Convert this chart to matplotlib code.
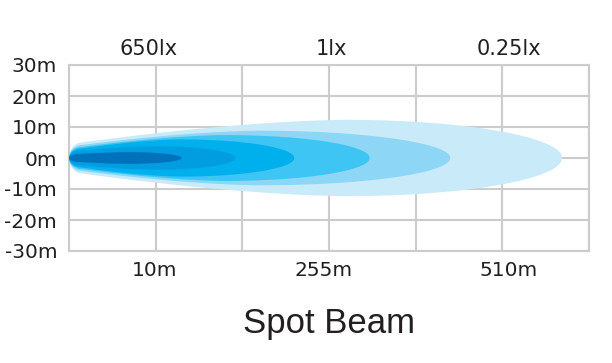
import numpy as np
import matplotlib
matplotlib.use("Agg")
import matplotlib.pyplot as plt

# ---- data ----
y_ticks = [-30, -20, -10, 0, 10, 20, 30]
y_labels = ["-30m", "-20m", "-10m", "0m", "10m", "20m", "30m"]
bottom_pos = [0.99, 2.94, 5.07]
bottom_labels = ["10m", "255m", "510m"]
top_pos = [0.92, 3.03, 5.08]
top_labels = ["650lx", "1lx", "0.25lx"]

# beam layers, outermost first (x in grid units, half-widths in metres)
layer_length = [5.69, 4.40, 3.47, 2.60, 1.92, 1.30]
layer_peak_pos = [3.2, 2.2, 1.8, 1.3, 1.0, 0.7]
layer_peak_half = [12.3, 8.8, 7.4, 6.0, 3.8, 1.9]
layer_nose_half = [5.0, 4.2, 3.6, 3.1, 2.4, 1.3]
layer_nose_len = [0.15, 0.15, 0.15, 0.15, 0.14, 0.12]
layer_colors = ["#c8eaf9", "#8dd6f6", "#3ec5f3", "#00b0ec", "#009ee0", "#0072bb"]


def outline(L, c, H, h0, r, n=600):
    x = np.linspace(0, L, n)
    h = np.zeros_like(x)
    nose = x < r
    h[nose] = h0 * np.sqrt(np.clip(1 - ((r - x[nose]) / r) ** 2, 0, 1))
    mid = (x >= r) & (x < c)
    t = (x[mid] - r) / (c - r)
    h[mid] = h0 + (H - h0) * (1 - (1 - t) ** 1.6)
    right = x >= c
    h[right] = H * np.sqrt(np.clip(1 - ((x[right] - c) / (L - c)) ** 2, 0, 1))
    return x, h


fig = plt.figure(figsize=(6.12, 3.63), dpi=100)
ax = fig.add_axes([69 / 612, 112 / 363, 520 / 612, 186 / 363])
ax.set_xlim(0, 6)
ax.set_ylim(-30, 30)

for L, c, H, h0, r, col in zip(layer_length, layer_peak_pos, layer_peak_half,
                               layer_nose_half, layer_nose_len, layer_colors):
    x, h = outline(L, c, H, h0, r)
    ax.fill(np.r_[x, x[::-1]], np.r_[h, -h[::-1]], color=col, lw=0, zorder=2)

grid_col = "#cccccc"
ax.set_xticks(range(7))
ax.set_xticklabels([""] * 7)
ax.set_xticks(bottom_pos, bottom_labels, minor=True)
ax.set_yticks(y_ticks, y_labels)
ax.grid(True, which="major", color=grid_col, lw=1.5)
ax.set_axisbelow(True)
for s in ax.spines.values():
    s.set_color(grid_col)
    s.set_linewidth(1.5)
    s.set_zorder(1)

tick_font = dict(family="DejaVu Sans", size=14.5, color="#231f20")
ax.tick_params(axis="both", which="both", length=0)
ax.tick_params(axis="y", pad=8.5)
ax.tick_params(axis="x", which="minor", pad=7.5)
for lab in ax.get_yticklabels() + ax.get_xticklabels(minor=True):
    lab.set_fontfamily("DejaVu Sans")
    lab.set_fontsize(14.5)
    lab.set_color("#231f20")

ax2 = ax.twiny()
ax2.set_xlim(0, 6)
ax2.set_xticks(top_pos, top_labels)
ax2.tick_params(axis="x", length=0, pad=4)
for lab in ax2.get_xticklabels():
    lab.set_fontfamily("DejaVu Sans")
    lab.set_fontsize(15)
    lab.set_color("#231f20")
for s in ax2.spines.values():
    s.set_visible(False)

fig.text(329 / 612, 1 - 333 / 363, "Spot Beam", ha="center", va="baseline",
         fontsize=25, family="Liberation Sans", color="#231f20")

fig.savefig("out.png", dpi=100)
